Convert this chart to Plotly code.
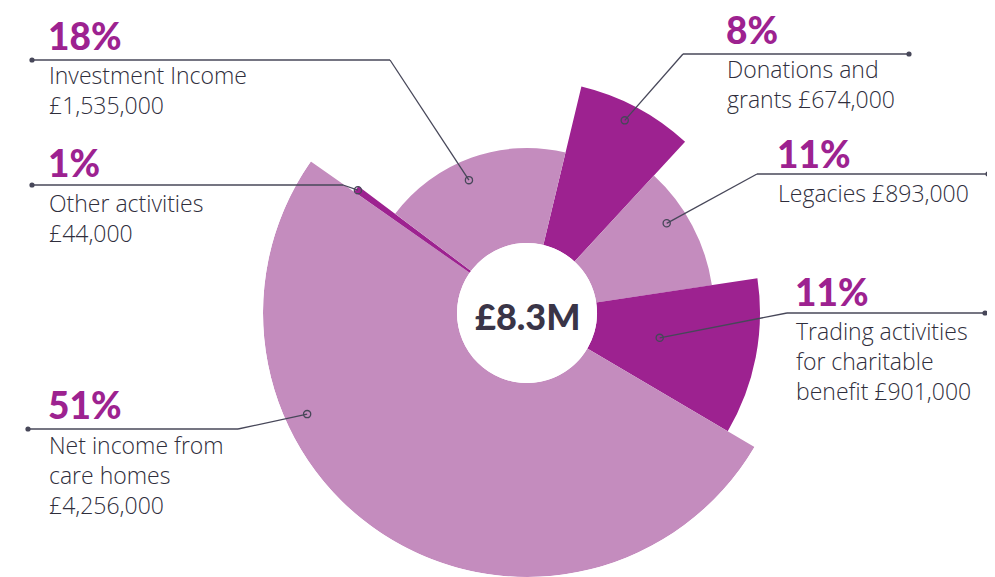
import math
import plotly.graph_objects as go

# ---------------- data ----------------
categories = ["Donations and grants", "Legacies", "Trading activities for charitable benefit",
              "Net income from care homes", "Other activities", "Investment Income"]
amounts = [674000, 893000, 901000, 4256000, 44000, 1535000]
# visual outer radius of each wedge (in px of design)
segment_radius = [233, 187, 233, 264, 211, 165]
segment_shade = ["dark", "light", "dark", "light", "dark", "light"]

label_lines = [
    ["Donations and", "grants £674,000"],
    ["Legacies £893,000"],
    ["Trading activities", "for charitable", "benefit £901,000"],
    ["Net income from", "care homes", "£4,256,000"],
    ["Other activities", "£44,000"],
    ["Investment Income", "£1,535,000"],
]

# ---------------- geometry / style ----------------
W, H = 995, 577          # design (window) size
OFF = 8                  # page body margin
FW, FH = W - OFF, H - OFF
CX, CY, R = 527, 313, 264
HOLE = 70
START = 13.5
DARK = "#9d2290"
LIGHT = "#c48cbe"
TEXT = "#2f2e3c"
LINE = "#474759"
LABEL_FONT = "Open Sans"
LABEL_SIZE = 23
LINE_STEP = 28.3

total = sum(amounts)
shares = [a / total for a in amounts]
widths = [s * 360 for s in shares]
thetas = []
acc = START
for w in widths:
    thetas.append(acc + w / 2)
    acc += w
pct_labels = [f"{round(s * 100)}%" for s in shares]


def px(x, y):
    return (x - OFF) / FW, 1 - (y - OFF) / FH


def polar_px(theta, r):
    t = math.radians(theta)
    return CX + r * math.sin(t), CY - r * math.cos(t)


fig = go.Figure()
fig.add_trace(go.Barpolar(
    r=[rad - HOLE for rad in segment_radius],
    theta=thetas,
    width=widths,
    marker=dict(color=[DARK if s == "dark" else LIGHT for s in segment_shade], line=dict(width=0)),
    hoverinfo="skip",
))

dx0, dy1 = px(CX - R, CY - R)
dx1, dy0 = px(CX + R, CY + R)
fig.update_layout(
    width=FW, height=FH,
    margin=dict(l=0, r=0, t=0, b=0),
    paper_bgcolor="white", plot_bgcolor="white",
    showlegend=False,
    polar=dict(
        domain=dict(x=[dx0, dx1], y=[max(0, dy0), min(1, dy1)]),
        hole=HOLE / R,
        bgcolor="rgba(0,0,0,0)",
        radialaxis=dict(range=[0, R - HOLE], visible=False, showgrid=False),
        angularaxis=dict(direction="clockwise", rotation=90, visible=False, showgrid=False),
        barmode="overlay",
    ),
)

# label layout: (pct x, pct y, first text line y, dot x, elbow x, line y, anchor theta, anchor r)
layout_spec = [
    (726, 30, 70, 909, 683, 54, 26.9, 216),
    (777, 153, 193, 988, 757, 174, 57.3, 166),
    (795, 291, 333, 985, 787, 313, 100.6, 135),
    (48, 404, 447, 28, 238, 429, 245.3, 242),
    (48, 162, 204, 32, 343, 185, 306.0, 209),
    (48, 36, 76, 32, 390, 60, 336.4, 145),
]

shapes = []
annotations = []
for i, (tx, py, ly, dx, ex, lyy, ath, ar) in enumerate(layout_spec):
    mx, my = polar_px(ath, ar)
    for (x0, y0, x1, y1) in [(dx, lyy, ex, lyy), (ex, lyy, mx, my)]:
        a0, b0 = px(x0, y0)
        a1, b1 = px(x1, y1)
        shapes.append(dict(type="line", xref="paper", yref="paper", x0=a0, y0=b0, x1=a1, y1=b1,
                           line=dict(color=LINE, width=1.3), layer="above"))
    a, b = px(dx, lyy)
    shapes.append(dict(type="circle", xref="paper", yref="paper", xsizemode="pixel", ysizemode="pixel",
                       xanchor=a, yanchor=b, x0=-2.6, x1=2.6, y0=-2.6, y1=2.6,
                       fillcolor=LINE, line=dict(width=0), layer="above"))
    a, b = px(mx, my)
    shapes.append(dict(type="circle", xref="paper", yref="paper", xsizemode="pixel", ysizemode="pixel",
                       xanchor=a, yanchor=b, x0=-3.6, x1=3.6, y0=-3.6, y1=3.6,
                       fillcolor="rgba(0,0,0,0)", line=dict(color=LINE, width=1.3), layer="above"))
    a, b = px(tx - 2, py)
    annotations.append(dict(text=pct_labels[i], x=a, y=b, xref="paper", yref="paper",
                            xanchor="left", yanchor="middle", showarrow=False,
                            font=dict(family="Lato", size=37, color=DARK, weight=900)))
    n = len(label_lines[i])
    a, b = px(tx - 1, ly + LINE_STEP * (n - 1) / 2)
    annotations.append(dict(text="<br>".join(label_lines[i]), x=a, y=b, xref="paper", yref="paper",
                            xanchor="left", yanchor="middle", align="left", showarrow=False,
                            font=dict(family=LABEL_FONT, size=LABEL_SIZE, color=TEXT, weight=300)))

total_label = f"£{total / 1e6:.1f}M"
a, b = px(CX, CY + 3)
annotations.append(dict(text=total_label, x=a, y=b, xref="paper", yref="paper",
                        xanchor="center", yanchor="middle", showarrow=False,
                        font=dict(family="Lato", size=36, color="#3a3547", weight=900)))

fig.update_layout(shapes=shapes, annotations=annotations)
fig.write_html("out.html")
